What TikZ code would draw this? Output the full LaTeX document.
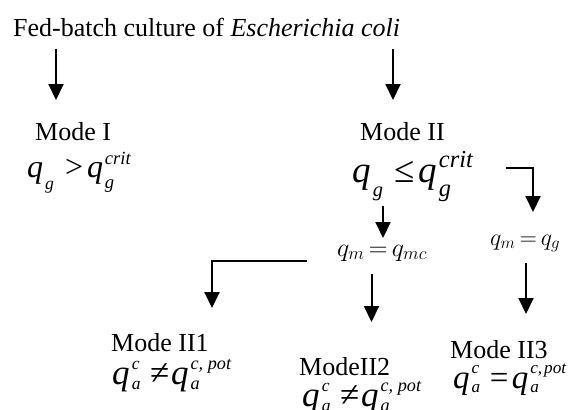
\RequirePackage{fix-cm}
\documentclass[tikz,border=0pt]{standalone}
\usepackage{graphicx}
\usepackage[no-math]{fontspec}
\setmainfont{Liberation Serif}
\usetikzlibrary{arrows.meta}
% q with subscript only: #1 sub, #2 scale, #3 drop (em)
\newcommand\qs[3]{\textit{q}\kern0.06em\raisebox{-#3em}{\scalebox{#2}{\textit{#1}}}}
% q with sub and sup: #1 sub, #2 sup, #3 scale, #4 drop (em), #5 raise (em)
\newcommand\qq[5]{\textit{q}\kern0.06em\rlap{\raisebox{-#4em}{\scalebox{#3}{\textit{#1}}}}\raisebox{#5em}{\scalebox{#3}{\textit{#2}}}}
\tikzset{
  lbl/.style={anchor=base west, inner sep=0pt, font=\fontsize{26}{30}\selectfont},
  expr/.style={anchor=base west, inner sep=0pt, font=\fontsize{#1}{#1}\selectfont},
  cmtxt/.style={anchor=base west, inner sep=0pt, font=\fontsize{#1}{#1}\selectfont},
  arr/.style={line width=2pt, -{Triangle[width=15pt,length=16pt]}}
}
\begin{document}
\begin{tikzpicture}[x=1pt,y=-1pt]
\useasboundingbox (0,0) rectangle (571,410);
\node[lbl] (title) at (13,36.5) {Fed-batch culture of \textit{Escherichia coli}};
\node[lbl] (m1) at (35,140.5) {Mode I};
\node[lbl] (m2) at (360,140.5) {Mode II};
\node[expr=32] (e1) at (27,177) {\qs{g}{0.55}{0.4}\hspace{0.35em}>\hspace{0.12em}\qq{g}{crit}{0.58}{0.37}{0.38}};
\node[expr=37] (e2) at (352,182) {\qs{g}{0.55}{0.4}\hspace{0.3em}≤\hspace{0.1em}\qq{g}{crit}{0.66}{0.4}{0.4}};
\node[cmtxt=26] (qmc) at (337,256) {$\thickmuskip=3mu\relax q_m = q_{mc}$};
\node[cmtxt=24] (qmg) at (490,245) {$\thickmuskip=3mu\relax q_m = q_g$};
\node[lbl] (m21) at (111,351) {Mode II1};
\node[expr=35] (e3) at (112,384) {\qq{a}{c}{0.5}{0.15}{0.42}\hspace{0.3em}≠\hspace{0.05em}\qq{a}{c,\hspace{0.25em}pot}{0.52}{0.15}{0.42}};
\node[lbl] (m22) at (299,375) {ModeII2};
\node[expr=35] (e4) at (302,406) {\qq{a}{c}{0.5}{0.15}{0.42}\hspace{0.3em}≠\hspace{0.05em}\qq{a}{c,\hspace{0.25em}pot}{0.52}{0.15}{0.42}};
\node[lbl] (m23) at (450,358.5) {Mode II3};
\node[expr=33] (e5) at (453,388) {\qq{a}{c}{0.52}{0.15}{0.44}\hspace{0.32em}=\hspace{0.1em}\qq{a}{c,\hspace{0.12em}pot}{0.52}{0.15}{0.44}};
% connector end points
\coordinate (a1s) at (56,48.5);  \coordinate (a1e) at (56,100);
\coordinate (a2s) at (393,48.5); \coordinate (a2e) at (393,100);
\coordinate (a3s) at (383,206);  \coordinate (a3e) at (383,238);
\coordinate (a4s) at (506,168);  \coordinate (a4e) at (533,212);
\coordinate (a5s) at (307,261);  \coordinate (a5e) at (212,308);
\coordinate (a6s) at (371.5,273.5); \coordinate (a6e) at (371.5,322);
\coordinate (a7s) at (526,263);  \coordinate (a7e) at (526,314);
\draw[arr] (a1s) -- (a1e);
\draw[arr] (a2s) -- (a2e);
\draw[arr] (a3s) -- (a3e);
\draw[arr] (a4s) -| (a4e);
\draw[arr] (a5s) -| (a5e);
\draw[arr] (a6s) -- (a6e);
\draw[arr] (a7s) -- (a7e);
\end{tikzpicture}
\end{document}
